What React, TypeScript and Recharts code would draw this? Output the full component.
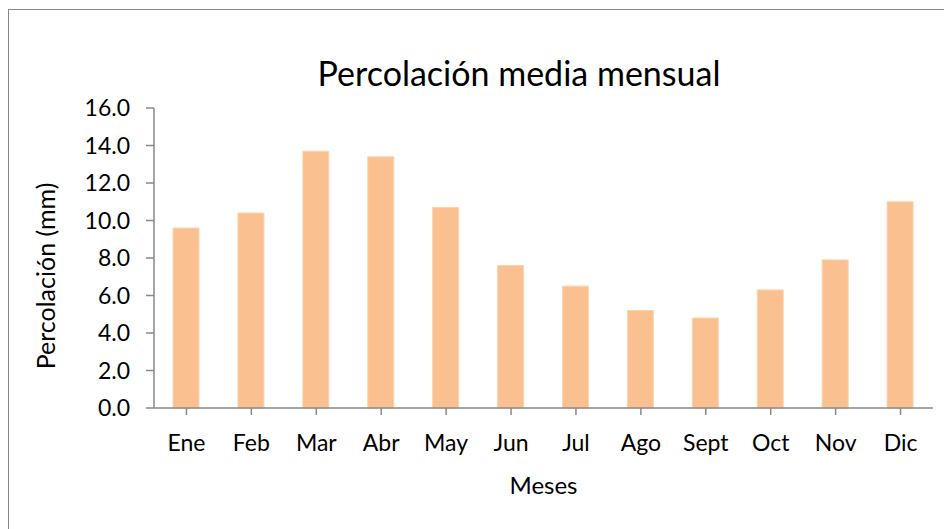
import { BarChart, Bar, XAxis, YAxis } from 'recharts';

const months = ['Ene', 'Feb', 'Mar', 'Abr', 'May', 'Jun', 'Jul', 'Ago', 'Sept', 'Oct', 'Nov', 'Dic'];
const percolation = [9.6, 10.4, 13.7, 13.4, 10.7, 7.6, 6.5, 5.2, 4.8, 6.3, 7.9, 11.0];
const yTicks = [0, 2, 4, 6, 8, 10, 12, 14, 16];

const data = months.map((month, i) => ({ month, value: percolation[i] }));

const font = 'Lato, Calibri, "Open Sans", sans-serif';
const axisColor = '#898989';

export default function App() {
  return (
    <div style={{ position: 'relative', width: 944, height: 521, overflow: 'hidden', fontFamily: font }}>
      <div
        style={{
          position: 'absolute',
          left: 0,
          top: 1,
          width: 2000,
          height: 2000,
          borderLeft: `1px solid ${axisColor}`,
          borderTop: `1px solid ${axisColor}`
        }}
      />
      <div
        style={{
          position: 'absolute',
          left: 0,
          width: 1022,
          top: 45,
          textAlign: 'center',
          fontSize: 34,
          lineHeight: 1.2,
          color: '#000'
        }}
      >
        Percolación media mensual
      </div>
      <BarChart
        width={944}
        height={521}
        data={data}
        margin={{ top: 100, right: 19, bottom: 61, left: 86 }}
        style={{ position: 'absolute', left: 0, top: 0 }}
      >
        <XAxis
          dataKey="month"
          stroke={axisColor}
          strokeWidth={1.5}
          tickSize={7}
          tickMargin={20}
          height={60}
          interval={0}
          tick={{ fill: '#000', fontSize: 23, fontFamily: font }}
          label={(props: any) => {
            const vb = props.viewBox;
            return (
              <text
                x={vb.x + vb.width / 2}
                y={476}
                textAnchor="middle"
                dominantBaseline="central"
                fontSize={24}
                fontFamily={font}
                fill="#000"
              >
                Meses
              </text>
            );
          }}
        />
        <YAxis
          domain={[0, 16]}
          ticks={yTicks}
          interval={0}
          width={60}
          stroke={axisColor}
          strokeWidth={1.5}
          tickSize={8}
          tickMargin={16}
          tickFormatter={(v: number) => v.toFixed(1)}
          tick={{ fill: '#000', fontSize: 23, fontFamily: font }}
          label={(props: any) => {
            const vb = props.viewBox;
            const cx = 37;
            const cy = vb.y + vb.height / 2 + 18;
            return (
              <text
                x={cx}
                y={cy}
                textAnchor="middle"
                dominantBaseline="central"
                transform={`rotate(-90 ${cx} ${cy})`}
                fontSize={25}
                fontFamily={font}
                fill="#000"
              >
                Percolación (mm)
              </text>
            );
          }}
        />
        <Bar dataKey="value" fill="#FAC090" stroke="#FCD3AE" strokeWidth={1} barSize={26} isAnimationActive={false} />
      </BarChart>
    </div>
  );
}
